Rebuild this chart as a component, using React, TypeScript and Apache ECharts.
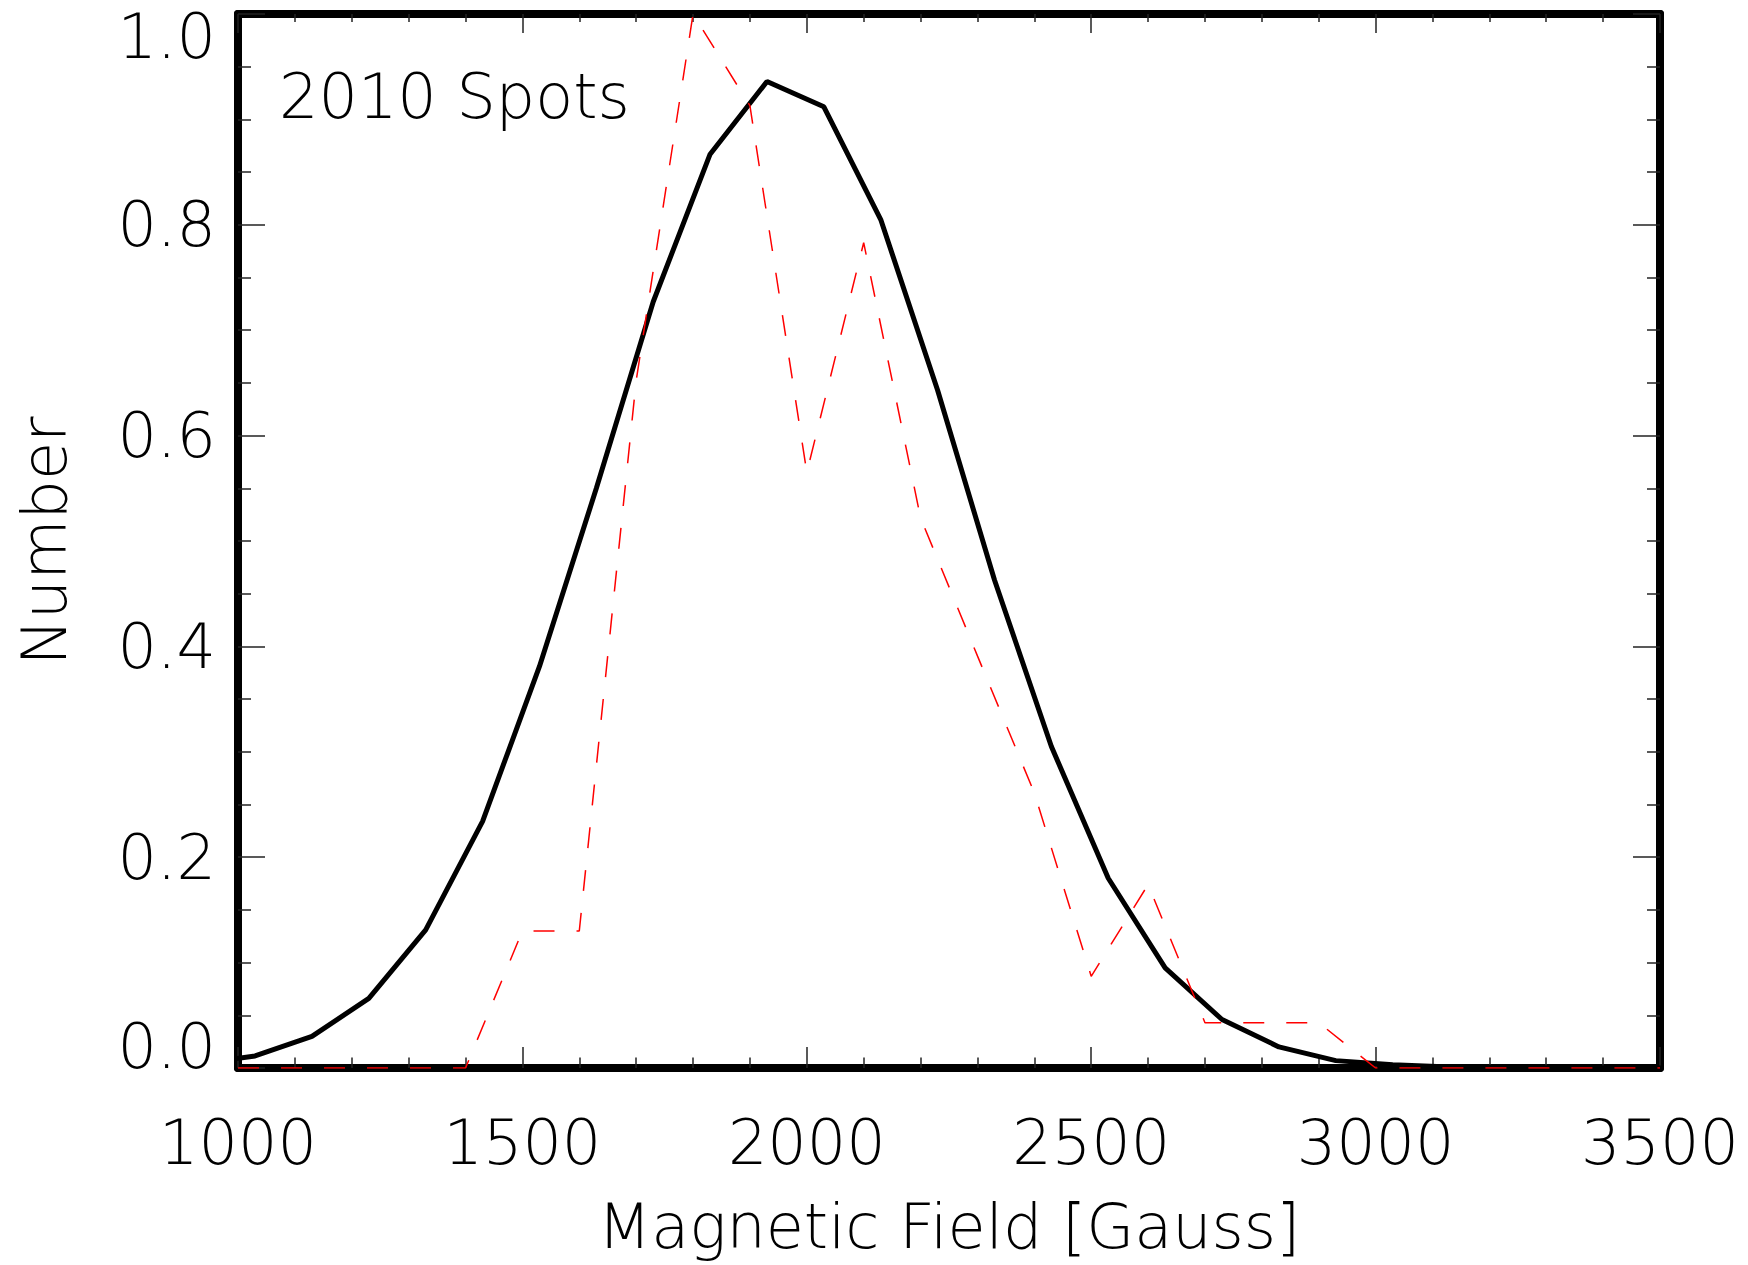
import React, { useEffect, useRef } from 'react';
import * as echarts from 'echarts';

// Model curve (black solid): magnetic field [G] and normalised number
const fieldModel = [930, 1030, 1130, 1230, 1330, 1430, 1530, 1630, 1730, 1830, 1930, 2030, 2130, 2230, 2330, 2430, 2530, 2630, 2730, 2830, 2930, 3030, 3130, 3230, 3330, 3430, 3530];
const numberModel = [0.004, 0.0114, 0.030, 0.066, 0.131, 0.234, 0.381, 0.550, 0.727, 0.867, 0.936, 0.912, 0.805, 0.643, 0.463, 0.305, 0.180, 0.095, 0.046, 0.020, 0.007, 0.003, 0.001, 0.0004, 0.0001, 0, 0];

// Observed histogram (red dashed)
const fieldObs = [1000, 1100, 1200, 1300, 1400, 1500, 1600, 1700, 1800, 1900, 2000, 2100, 2200, 2300, 2400, 2500, 2600, 2700, 2800, 2900, 3000, 3100, 3200, 3300, 3400, 3500];
const numberObs = [0, 0, 0, 0, 0, 0.13, 0.13, 0.652, 1.0, 0.913, 0.565, 0.783, 0.522, 0.391, 0.261, 0.087, 0.174, 0.043, 0.043, 0.043, 0, 0, 0, 0, 0, 0];

const xTickStep = 500;
const yTickStep = 0.2;
const labelText = '2010 Spots';
const xTitle = 'Magnetic Field [Gauss]';
const yTitle = 'Number';

const FONT = '"DejaVu Sans", "Noto Sans", sans-serif';
const FW = 200;
const FS = 62;

export default function App() {
  const ref = useRef<HTMLDivElement>(null);
  useEffect(() => {
    if (!ref.current) return;
    const chart = echarts.init(ref.current, undefined, { renderer: 'svg' });
    const mkAxisLine = () => ({ show: true, onZero: false, lineStyle: { color: '#000', width: 8, type: 'solid' as const } });
    const tickStyle = { color: '#222', width: 1.5 };
    const textBase = { fontFamily: FONT, fontWeight: FW as any, fontSize: FS, color: '#000' };
    const xCommon = {
      type: 'value' as const,
      min: 1000,
      max: 3500,
      interval: xTickStep,
      splitLine: { show: false },
      minorSplitLine: { show: false },
    };
    const yCommon = {
      type: 'value' as const,
      min: 0,
      max: 1,
      interval: yTickStep,
      splitLine: { show: false },
      minorSplitLine: { show: false },
    };
    chart.setOption({
      animation: false,
      backgroundColor: '#fff',
      grid: { left: 238, top: 14, width: 1422, height: 1054, containLabel: false, outerBoundsMode: 'none' } as any,
      xAxis: [
        {
          ...xCommon,
          position: 'bottom',
          axisLine: mkAxisLine(),
          axisTick: { show: true, inside: true, length: 21, lineStyle: tickStyle },
          minorTick: { show: true, splitNumber: 5, length: 10.5, lineStyle: tickStyle },
          axisLabel: { ...textBase, margin: 43, formatter: (v: number) => String(v) },
          name: xTitle,
          nameLocation: 'middle',
          nameGap: 127,
          nameTextStyle: { ...textBase },
        },
        {
          ...xCommon,
          position: 'top',
          axisLine: mkAxisLine(),
          axisTick: { show: true, inside: true, length: 19, lineStyle: tickStyle },
          minorTick: { show: true, splitNumber: 5, length: 8, lineStyle: tickStyle },
          axisLabel: { show: false },
        },
      ],
      yAxis: [
        {
          ...yCommon,
          position: 'left',
          axisLine: mkAxisLine(),
          axisTick: { show: true, inside: true, length: 27, lineStyle: tickStyle },
          minorTick: { show: true, splitNumber: 4, length: 13, lineStyle: tickStyle },
          axisLabel: {
            ...textBase,
            margin: 22,
            formatter: (v: number) => {
              const s = v.toFixed(1);
              if (Math.abs(v) < 1e-9) return '{lo|' + s + '}';
              if (Math.abs(v - 1) < 1e-9) return '{hi|' + s + '}';
              return s;
            },
            rich: {
              lo: { ...textBase, padding: [0, 0, 44, 0] },
              hi: { ...textBase, padding: [44, 0, 0, 0] },
            },
          },
          name: yTitle,
          nameLocation: 'middle',
          nameGap: 163,
          nameTextStyle: { ...textBase },
        },
        {
          ...yCommon,
          position: 'right',
          axisLine: mkAxisLine(),
          axisTick: { show: true, inside: true, length: 27, lineStyle: tickStyle },
          minorTick: { show: true, splitNumber: 4, length: 13, lineStyle: tickStyle },
          axisLabel: { show: false },
        },
      ],
      graphic: [
        {
          type: 'text',
          x: 279,
          y: 96,
          silent: true,
          style: {
            text: labelText,
            fill: '#000',
            font: `${FW} ${FS}px ${FONT}`,
            align: 'left',
            verticalAlign: 'middle',
          },
        },
      ],
      series: [
        {
          type: 'line',
          xAxisIndex: 0,
          yAxisIndex: 0,
          data: fieldModel.map((x, i) => [x, numberModel[i]]),
          symbol: 'none',
          lineStyle: { color: '#000', width: 5 },
          z: 3,
        },
        {
          type: 'line',
          xAxisIndex: 0,
          yAxisIndex: 0,
          data: fieldObs.map((x, i) => [x, numberObs[i]]),
          symbol: 'none',
          lineStyle: { color: '#ff0000', width: 1.5, type: [21, 22] },
          z: 4,
        },
      ],
    });
    return () => chart.dispose();
  }, []);
  return (
    <div
      ref={ref}
      style={{ position: 'absolute', left: 0, top: 0, width: 1748, height: 1265, background: '#fff' }}
    />
  );
}
